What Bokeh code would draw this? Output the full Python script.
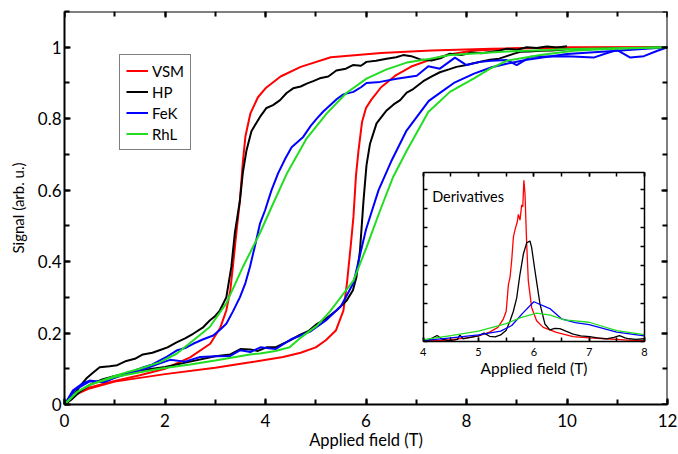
from bokeh.plotting import figure
from bokeh.models import (Range1d, LinearAxis, SingleIntervalTicker, Legend, LegendItem,
                          Label, CustomJSTickFormatter, CustomLabelingPolicy)
from bokeh.embed import file_html
from bokeh.resources import INLINE

FONT = "Lato"

# ---------------- data: main loops (two branches per technique) ----------------
vsm_a_x = [0, 0.25, 0.5, 1.0, 1.5, 2.0, 2.5, 2.9, 3.1, 3.22, 3.3, 3.35, 3.42, 3.49, 3.55, 3.6, 3.7,
           3.85, 4.0, 4.3, 4.7, 5.3, 6.3, 7.3, 8.5, 10.0, 12.0]
vsm_a_y = [0, 0.03, 0.048, 0.066, 0.082, 0.1, 0.132, 0.17, 0.215, 0.263, 0.32, 0.385, 0.48, 0.57,
           0.68, 0.75, 0.815, 0.86, 0.885, 0.918, 0.945, 0.972, 0.984, 0.991, 0.996, 0.999, 1.0]
vsm_b_x = [0, 0.25, 0.5, 1.0, 2.0, 3.0, 3.7, 4.35, 4.7, 5.0, 5.2, 5.4, 5.55, 5.62, 5.7, 5.75, 5.8,
           5.85, 5.92, 6.0, 6.1, 6.3, 6.6, 6.9, 7.3, 7.6, 8.1, 9.0, 10.0, 12.0]
vsm_b_y = [0, 0.03, 0.045, 0.064, 0.085, 0.103, 0.118, 0.133, 0.145, 0.16, 0.18, 0.207, 0.263, 0.338,
           0.45, 0.525, 0.64, 0.71, 0.79, 0.83, 0.852, 0.888, 0.922, 0.946, 0.966, 0.978, 0.99,
           0.997, 0.999, 1.0]

hp_a_x = [0, 0.15, 0.3, 0.45, 0.56, 0.7, 0.9, 1.05, 1.23, 1.4, 1.56, 1.75, 1.89, 2.05, 2.23, 2.4,
          2.56, 2.75, 2.89, 3.0, 3.09, 3.22, 3.32, 3.39, 3.49, 3.55, 3.62, 3.72, 3.89, 4.02, 4.15,
          4.29, 4.42, 4.55, 4.7, 4.82, 4.95, 5.08, 5.25, 5.41, 5.6, 5.74, 5.9, 6.01, 6.2, 6.41, 6.6,
          6.74, 6.9, 7.08, 7.3, 7.5, 7.67, 7.9, 8.1, 8.3, 8.47, 8.65, 8.8, 9.0, 9.2, 9.4, 9.6, 9.8, 10.0]
hp_a_y = [0, 0.02, 0.05, 0.075, 0.088, 0.104, 0.107, 0.11, 0.122, 0.128, 0.14, 0.145, 0.152, 0.16,
          0.174, 0.185, 0.198, 0.215, 0.235, 0.248, 0.263, 0.3, 0.385, 0.48, 0.57, 0.65, 0.71, 0.765,
          0.805, 0.83, 0.838, 0.852, 0.872, 0.885, 0.89, 0.898, 0.905, 0.913, 0.918, 0.935, 0.94,
          0.95, 0.948, 0.959, 0.962, 0.968, 0.972, 0.978, 0.975, 0.966, 0.963, 0.97, 0.982, 0.978,
          0.985, 0.983, 0.987, 0.99, 0.996, 0.993, 1.0, 0.998, 1.002, 0.999, 1.003]
hp_b_x = [0, 0.15, 0.3, 0.5, 0.75, 1.0, 1.5, 2.0, 2.5, 3.0, 3.3, 3.5, 3.69, 3.85, 4.02, 4.2, 4.35,
          4.5, 4.68, 4.85, 5.02, 5.2, 5.41, 5.61, 5.74, 5.81, 5.88, 5.95, 6.01, 6.08, 6.21, 6.41,
          6.55, 6.68, 6.81, 6.94, 7.14, 7.3, 7.47, 7.65, 7.8, 8.0, 8.14, 8.3, 8.47, 8.65, 8.8, 8.95,
          9.07, 9.25, 9.47, 9.7, 10.0, 10.5, 11.0, 11.5, 12.0]
hp_b_y = [0, 0.015, 0.035, 0.055, 0.07, 0.08, 0.095, 0.105, 0.12, 0.135, 0.14, 0.155, 0.154, 0.15,
          0.16, 0.16, 0.17, 0.18, 0.195, 0.205, 0.225, 0.24, 0.263, 0.29, 0.32, 0.357, 0.43, 0.57,
          0.67, 0.73, 0.787, 0.823, 0.84, 0.852, 0.873, 0.883, 0.905, 0.918, 0.93, 0.938, 0.945,
          0.95, 0.955, 0.96, 0.965, 0.968, 0.975, 0.982, 0.987, 0.988, 0.99, 0.991, 0.994, 0.995,
          0.997, 0.998, 1.0]

fek_a_x = [0, 0.17, 0.35, 0.5, 0.75, 0.9, 1.1, 1.3, 1.56, 1.75, 1.89, 2.05, 2.23, 2.4, 2.56, 2.75,
           2.96, 3.1, 3.22, 3.35, 3.49, 3.6, 3.69, 3.8, 3.89, 3.99, 4.12, 4.25, 4.4, 4.52, 4.75, 4.9,
           5.02, 5.15, 5.28, 5.42, 5.55, 5.75, 5.9, 6.01, 6.28, 6.61, 7.01, 7.24, 7.47, 7.77, 8.0,
           8.27, 8.5, 8.8, 9.0, 9.27, 9.6, 10.0, 10.53, 10.8, 11.0, 11.26, 11.53, 11.8, 12.0]
fek_a_y = [0, 0.04, 0.058, 0.067, 0.062, 0.07, 0.081, 0.09, 0.104, 0.112, 0.123, 0.135, 0.151,
           0.158, 0.17, 0.182, 0.193, 0.21, 0.226, 0.26, 0.3, 0.34, 0.385, 0.45, 0.506, 0.543, 0.6,
           0.647, 0.69, 0.72, 0.749, 0.78, 0.8, 0.82, 0.837, 0.855, 0.868, 0.875, 0.888, 0.9, 0.903,
           0.912, 0.92, 0.947, 0.94, 0.971, 0.95, 0.959, 0.962, 0.964, 0.95, 0.973, 0.974, 0.975,
           0.971, 0.984, 0.992, 0.971, 0.975, 0.99, 1.0]
fek_b_x = [0, 0.2, 0.5, 0.8, 1.0, 1.3, 1.6, 1.9, 2.1, 2.4, 2.7, 3.0, 3.3, 3.5, 3.7, 3.9, 4.2, 4.5,
           4.9, 5.2, 5.5, 5.75, 6.0, 6.25, 6.5, 6.8, 7.25, 7.5, 7.75, 8.15, 8.5, 8.8, 9.2, 10.0, 11.0,
           12.0]
fek_b_y = [0, 0.04, 0.065, 0.063, 0.075, 0.088, 0.1, 0.115, 0.125, 0.12, 0.133, 0.135, 0.136, 0.152,
           0.147, 0.16, 0.155, 0.182, 0.205, 0.235, 0.275, 0.34, 0.49, 0.6, 0.68, 0.765, 0.85, 0.875,
           0.9, 0.926, 0.944, 0.954, 0.965, 0.981, 0.99, 1.0]

rhl_a_x = [0, 0.25, 0.5, 1.0, 1.23, 1.5, 1.89, 2.23, 2.56, 2.89, 3.22, 3.55, 3.89, 4.09, 4.42, 4.82,
           5.22, 5.61, 6.01, 6.41, 6.81, 7.28, 7.67, 8.8, 10.1, 12.0]
rhl_a_y = [0, 0.035, 0.055, 0.08, 0.09, 0.1, 0.118, 0.142, 0.179, 0.217, 0.283, 0.385, 0.48, 0.543,
           0.645, 0.745, 0.815, 0.872, 0.912, 0.938, 0.957, 0.968, 0.978, 0.988, 0.995, 1.0]
rhl_b_x = [0, 0.25, 0.5, 1.0, 1.5, 1.89, 2.5, 3.0, 3.69, 3.89, 4.2, 4.48, 4.68, 5.02, 5.28, 5.55,
           5.75, 6.01, 6.28, 6.54, 6.81, 7.24, 7.67, 8.14, 8.47, 8.8, 9.47, 10.13, 10.8, 12.0]
rhl_b_y = [0, 0.035, 0.055, 0.077, 0.09, 0.1, 0.112, 0.123, 0.14, 0.143, 0.15, 0.16, 0.185, 0.22,
           0.26, 0.31, 0.347, 0.44, 0.543, 0.637, 0.71, 0.819, 0.875, 0.912, 0.94, 0.962, 0.978,
           0.99, 0.995, 1.0]

# ---------------- data: inset derivatives (arb. units) ----------------
vsm_d_x = [4.0, 4.3, 4.5, 4.8, 5.0, 5.2, 5.35, 5.45, 5.5, 5.54, 5.57, 5.6, 5.63, 5.66, 5.7, 5.72,
           5.75, 5.78, 5.8, 5.82, 5.84, 5.87, 5.9, 5.96, 6.05, 6.17, 6.41, 6.71, 7.0, 7.31, 7.7, 8.0]
vsm_d_y = [0.05, 0.06, 0.1, 0.2, 0.3, 0.5, 0.75, 1.2, 1.6, 3.0, 3.4, 4.3, 5.5, 5.9, 6.3, 6.7, 6.4,
           7.2, 7.1, 8.5, 7.8, 5.2, 3.2, 1.8, 1.1, 0.75, 0.49, 0.26, 0.2, 0.15, 0.08, 0.05]
hp_d_x = [4.0, 4.1, 4.17, 4.25, 4.33, 4.45, 4.55, 4.62, 4.66, 4.72, 4.8, 4.9, 5.0, 5.1, 5.2, 5.3,
          5.4, 5.5, 5.57, 5.63, 5.69, 5.75, 5.81, 5.87, 5.93, 5.96, 6.02, 6.11, 6.2, 6.29, 6.38,
          6.47, 6.58, 6.71, 6.85, 7.01, 7.15, 7.31, 7.45, 7.55, 7.65, 7.72, 7.85, 8.0]
hp_d_y = [0.05, 0.08, 0.2, 0.32, 0.15, 0.05, 0.08, 0.12, 0.35, 0.15, 0.2, 0.25, 0.3, 0.45, 0.28,
          0.25, 0.35, 0.6, 1.1, 1.6, 2.3, 3.56, 4.6, 5.2, 5.3, 4.96, 3.74, 2.0, 0.93, 0.62, 0.7,
          0.68, 0.55, 0.4, 0.3, 0.26, 0.2, 0.15, 0.22, 0.32, 0.2, 0.15, 0.12, 0.15]
fek_d_x = [4.0, 4.5, 5.0, 5.4, 5.6, 5.8, 6.0, 6.3, 6.5, 6.75, 7.0, 7.5, 8.0]
fek_d_y = [0.05, 0.2, 0.35, 0.55, 0.85, 1.5, 2.1, 1.72, 1.2, 1.0, 0.9, 0.5, 0.3]
rhl_d_x = [4.0, 4.5, 5.0, 5.5, 5.75, 6.05, 6.3, 6.55, 7.0, 7.5, 8.0]
rhl_d_y = [0.1, 0.32, 0.55, 0.95, 1.25, 1.5, 1.4, 1.15, 1.02, 0.58, 0.37]

labels = ["VSM", "HP", "FeK", "RhL"]
colors = ["#ff0000", "#000000", "#0000ff", "#22dd22"]

# ---------------- figure ----------------
X0, X1, Y0, Y1 = 0, 12, 0, 1.1
p = figure(width=678, height=454, output_backend="svg", toolbar_location=None,
           x_range=Range1d(X0, X1), y_range=Range1d(Y0, Y1),
           min_border_left=64, min_border_right=11, min_border_top=11, min_border_bottom=50)
p.outline_line_color = None
p.grid.visible = False
p.background_fill_color = "white"

NO_LABELS = CustomLabelingPolicy(code="return [];")


def style_axis(ax, tick_in=6, minor_in=5, width=2, font_size="17px", show_labels=True):
    ax.axis_line_width = width
    ax.axis_line_color = "black"
    ax.major_tick_in = tick_in
    ax.major_tick_out = 0
    ax.minor_tick_in = minor_in
    ax.minor_tick_out = 0
    ax.major_tick_line_width = width
    ax.minor_tick_line_width = width
    ax.major_tick_line_color = "black"
    ax.minor_tick_line_color = "black"
    ax.major_label_text_font = FONT
    ax.major_label_text_font_size = font_size
    ax.major_label_text_color = "black"
    ax.axis_label_text_font = FONT
    ax.axis_label_text_font_style = "normal"
    ax.axis_label_text_color = "black"
    if not show_labels:
        ax.major_label_policy = NO_LABELS


xax = p.xaxis[0]
xax.ticker = SingleIntervalTicker(interval=2, num_minor_ticks=2)
style_axis(xax)
xax.axis_label = "Applied field (T)"
xax.axis_label_text_font_size = "16.5px"
xax.major_label_standoff = 9
xax.axis_label_standoff = 0

yax = p.yaxis[0]
yax.ticker = SingleIntervalTicker(interval=0.2, num_minor_ticks=2)
style_axis(yax)
yax.formatter = CustomJSTickFormatter(code="return tick.toFixed(1).replace(/\\.0$/, '');")
yax.axis_label = "Signal (arb. u.)"
yax.axis_label_text_font_size = "15px"
yax.major_label_standoff = 3
yax.axis_label_standoff = 8

# mirrored top / right axes (ticks only)
top_ax = LinearAxis(ticker=SingleIntervalTicker(interval=2, num_minor_ticks=2), fixed_location=Y1)
style_axis(top_ax, show_labels=False)
p.add_layout(top_ax, "above")
right_ax = LinearAxis(ticker=SingleIntervalTicker(interval=0.2, num_minor_ticks=2), fixed_location=X1)
style_axis(right_ax, show_labels=False)
p.add_layout(right_ax, "right")

# main curves
branches = [(vsm_a_x, vsm_a_y, vsm_b_x, vsm_b_y), (hp_a_x, hp_a_y, hp_b_x, hp_b_y),
            (fek_a_x, fek_a_y, fek_b_x, fek_b_y), (rhl_a_x, rhl_a_y, rhl_b_x, rhl_b_y)]
items = []
for (ax_, ay_, bx_, by_), lab, col in zip(branches, labels, colors):
    r1 = p.line(ax_, ay_, line_color=col, line_width=2)
    p.line(bx_, by_, line_color=col, line_width=2)
    items.append(LegendItem(label=lab, renderers=[r1]))

legend = Legend(items=items, location=(55, 254), margin=0, padding=6, spacing=2,
                label_height=19, glyph_height=19, glyph_width=22, label_standoff=4,
                label_text_font=FONT, label_text_font_size="15px", label_text_color="black",
                border_line_color="black", border_line_width=1.5, background_fill_alpha=1)
p.add_layout(legend)

# ---------------- inset (placed via extra ranges) ----------------
IX0, IX1 = 4, 8          # inset x data range
IY0, IY1 = 0, 8.9        # inset y data range (arb. units)
# inset box location in main-axis coordinates
BOX_L, BOX_R, BOX_B, BOX_T = 7.14, 11.54, 0.176, 0.649
sx = (IX1 - IX0) / (BOX_R - BOX_L)
sy = (IY1 - IY0) / (BOX_T - BOX_B)
p.extra_x_ranges = {"ix": Range1d(IX0 - (BOX_L - X0) * sx, IX1 + (X1 - BOX_R) * sx)}
p.extra_y_ranges = {"iy": Range1d(IY0 - (BOX_B - Y0) * sy, IY1 + (Y1 - BOX_T) * sy)}

for dx, dy, col in zip([vsm_d_x, hp_d_x, fek_d_x, rhl_d_x], [vsm_d_y, hp_d_y, fek_d_y, rhl_d_y], colors):
    p.line(dx, dy, line_color=col, line_width=1.3, x_range_name="ix", y_range_name="iy")

ib = LinearAxis(x_range_name="ix", y_range_name="iy", fixed_location=IY0, bounds=(IX0, IX1),
                ticker=SingleIntervalTicker(interval=1, num_minor_ticks=2))
style_axis(ib, tick_in=4, minor_in=4, width=1.5, font_size="11px")
ib.axis_label = "Applied field (T)"
ib.axis_label_text_font_size = "15.5px"
ib.major_label_standoff = 6
ib.axis_label_standoff = 0
p.add_layout(ib, "below")

it = LinearAxis(x_range_name="ix", y_range_name="iy", fixed_location=IY1, bounds=(IX0, IX1),
                ticker=SingleIntervalTicker(interval=1, num_minor_ticks=2))
style_axis(it, tick_in=4, minor_in=4, width=1.5, show_labels=False)
p.add_layout(it, "above")

il = LinearAxis(x_range_name="ix", y_range_name="iy", fixed_location=IX0, bounds=(IY0, IY1),
                ticker=SingleIntervalTicker(interval=1, num_minor_ticks=0))
style_axis(il, tick_in=4, minor_in=0, width=1.5, show_labels=False)
p.add_layout(il, "left")

ir = LinearAxis(x_range_name="ix", y_range_name="iy", fixed_location=IX1, bounds=(IY0, IY1),
                ticker=SingleIntervalTicker(interval=1, num_minor_ticks=0))
style_axis(ir, tick_in=4, minor_in=0, width=1.5, show_labels=False)
p.add_layout(ir, "right")

p.add_layout(Label(x=4.16, y=7.63, x_range_name="ix", y_range_name="iy", text="Derivatives",
                   text_font=FONT, text_font_size="14.5px", text_color="black",
                   text_baseline="middle", text_align="left"))

open("out.html", "w").write(file_html(p, INLINE))
